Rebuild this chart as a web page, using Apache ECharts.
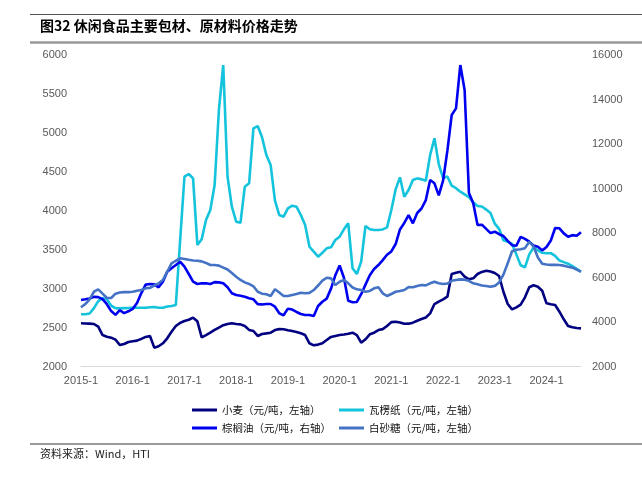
<!DOCTYPE html>
<html>
<head>
<meta charset="utf-8">
<script src="https://cdn.jsdelivr.net/npm/echarts@6/dist/echarts.min.js"></script>
<style>
html,body{margin:0;padding:0;background:#fff;}
#chart{width:642px;height:482px;}
</style>
</head>
<body>
<div id="chart"></div>
<script>
// Month categories 2015-1 .. 2024-9
var months = [];
for (var y = 2015; y <= 2024; y++) {
  for (var m = 1; m <= 12; m++) {
    if (y === 2024 && m > 9) break;
    months.push(y + '-' + m);
  }
}

var seriesNames = ['小麦（元/吨，左轴）', '瓦楞纸（元/吨，左轴）', '棕榈油（元/吨，右轴）', '白砂糖（元/吨，左轴）'];

var wheat = [
  2555,2553,2550,2546,2511,2404,2383,2370,2345,2276,2289,2315,2325,2332,2355,2380,2392,2242,2260,2298,
  2362,2447,2520,2560,2585,2600,2627,2580,2375,2404,2434,2470,2500,2530,2545,2555,2546,2541,2520,2470,
  2456,2392,2417,2425,2434,
  2468,2480,2478,2465,2456,2443,2426,2404,2298,2272,2281,2298,2340,2380,2392,2404,2410,2420,2434,2404,
  2306,2349,2413,2434,2468,2480,2520,2570,2575,2565,2548,2550,2563,2588,2610,2630,2682,2802,2832,2862,
  2896,
  3188,3205,3217,3153,3119,3132,3188,3215,3230,3220,3200,3162,2960,2802,2734,2760,2794,2888,3017,3043,
  3025,2973,2811,2800,2790,2704,2606,2520,2503,2494,2490
];

var paper = [
  2670,2670,2680,2750,2840,2876,2863,2780,2750,2747,2750,2752,2755,2755,2755,2755,2760,2764,2755,2755,
  2770,2777,2790,3620,4437,4472,4416,3560,3633,3881,4009,4330,5300,5871,4437,4052,3859,3846,4309,4352,
  5058,5088,4943,4716,4587,
  4130,3945,3924,4031,4065,4052,3945,3817,3538,3474,3410,3461,3518,3530,3624,3667,3762,3839,3261,3188,
  3346,3804,3762,3753,3753,3760,3787,4009,4275,4429,4180,4266,4395,4416,4403,4386,4716,4930,4600,4420,
  4440,
  4322,4290,4245,4210,4175,4110,4061,4054,4015,3970,3834,3768,3620,3600,3575,3440,3300,3274,3440,3530,
  3490,3460,3455,3455,3420,3360,3340,3320,3290,3255,3217
];

var palmOil = [
  4988,5020,5060,5130,5120,5030,4800,4490,4320,4530,4400,4480,4590,4850,5300,5680,5708,5693,5559,5811,
  6260,6413,6561,6710,6485,6157,5811,5708,5738,5738,5708,5790,5780,5738,5559,5290,5213,5180,5137,5065,
  5020,4800,4790,4809,4809,
  4687,4391,4300,4600,4560,4450,4360,4314,4314,4269,4720,4912,5050,5500,6100,6540,5990,4950,4890,4900,
  5250,5680,6100,6380,6560,6780,7020,7170,7505,8160,8450,8800,8435,8900,9100,9480,10381,10233,9690,10350,
  11700,
  13302,13603,15550,14426,9800,9333,8359,8374,8184,7995,8058,7946,7865,7644,7452,7429,7825,7736,7609,7434,
  7386,7219,7370,7662,8223,8210,7983,7833,7903,7875,8030
];

var sugar = [
  2760,2802,2863,2960,2991,2935,2880,2880,2935,2950,2955,2955,2960,2973,2982,3004,3010,3040,3068,3111,
  3217,3325,3358,3389,3380,3370,3362,3358,3350,3330,3303,3303,3295,3270,3245,3200,3153,3111,3080,3060,
  3030,2960,2935,2927,2905,
  2991,2950,2905,2905,2918,2931,2948,2940,2945,2982,3040,3102,3140,3132,3046,3089,3111,3068,3015,2991,
  2982,2960,2970,3004,3017,2940,2905,2931,2960,2970,2982,3020,3017,3034,3046,3042,3068,3089,3068,3059,
  3065,
  3100,3111,3119,3115,3100,3068,3055,3040,3034,3025,3035,3080,3180,3325,3480,3500,3505,3520,3602,3540,
  3400,3320,3310,3305,3305,3303,3295,3280,3270,3245,3217
];

var colors = ['#000080', '#14C3DC', '#0000F0', '#4472C4'];

var chart = echarts.init(document.getElementById('chart'), null, {renderer: 'canvas'});

function legendItem(name, left, top) {
  return {
    data: [name],
    left: left,
    top: top,
    orient: 'horizontal',
    padding: 0,
    icon: 'rect',
    itemWidth: 25,
    itemHeight: 3,
    selectedMode: false,
    textStyle: {
      fontFamily: 'Noto Sans CJK SC',
      fontSize: 10.5,
      color: '#111',
      lineHeight: 14
    }
  };
}

function lineSeries(i, data, axis) {
  return {
    name: seriesNames[i],
    type: 'line',
    data: data,
    yAxisIndex: axis,
    showSymbol: false,
    symbol: 'none',
    smooth: false,
    lineStyle: {width: 2.6, color: colors[i]},
    itemStyle: {color: colors[i]},
    z: 2 + i
  };
}

function plain(v) { return String(v); }

var option = {
  animation: false,
  backgroundColor: '#fff',
  grid: {left: 81, right: 61, top: 55, bottom: 115.5, containLabel: false},
  legend: [
    legendItem(seriesNames[0], 192, 403),
    legendItem(seriesNames[1], 339, 403),
    legendItem(seriesNames[2], 192, 421),
    legendItem(seriesNames[3], 339, 421)
  ],
  xAxis: {
    type: 'category',
    data: months,
    boundaryGap: false,
    axisLine: {show: true, lineStyle: {color: '#D9D9D9', width: 1}},
    axisTick: {show: false},
    axisLabel: {
      interval: 11,
      margin: 9,
      fontFamily: 'Liberation Sans',
      fontSize: 11,
      color: '#595959'
    },
    splitLine: {show: false}
  },
  yAxis: [
    {
      type: 'value',
      min: 2000, max: 6000, interval: 500,
      axisLine: {show: false},
      axisTick: {show: false},
      splitLine: {show: false},
      axisLabel: {margin: 14, formatter: plain, fontFamily: 'Liberation Sans', fontSize: 11, color: '#595959'}
    },
    {
      type: 'value',
      min: 2000, max: 16000, interval: 2000,
      position: 'right',
      axisLine: {show: false},
      axisTick: {show: false},
      splitLine: {show: false},
      axisLabel: {margin: 11, formatter: plain, fontFamily: 'Liberation Sans', fontSize: 11, color: '#595959'}
    }
  ],
  series: [
    lineSeries(0, wheat, 0),
    lineSeries(1, paper, 0),
    lineSeries(2, palmOil, 1),
    lineSeries(3, sugar, 0)
  ],
  graphic: [
    {type: 'line', shape: {x1: 30, y1: 14.5, x2: 642, y2: 14.5}, style: {stroke: '#555', lineWidth: 1}},
    {type: 'text', left: 40, top: 19, style: {text: '图32 休闲食品主要包材、原材料价格走势', font: 'bold 14px "Noto Sans CJK SC"', fill: '#000'}},
    {type: 'line', shape: {x1: 30, y1: 42.5, x2: 642, y2: 42.5}, style: {stroke: '#9A9A9A', lineWidth: 2.5}},
    {type: 'line', shape: {x1: 30, y1: 444, x2: 642, y2: 444}, style: {stroke: '#9A9A9A', lineWidth: 2}},
    {type: 'text', left: 40, top: 448, style: {text: '资料来源：Wind，HTI', font: '11px "Noto Sans CJK SC"', fill: '#222'}}
  ]
};

chart.setOption(option);
</script>
</body>
</html>
